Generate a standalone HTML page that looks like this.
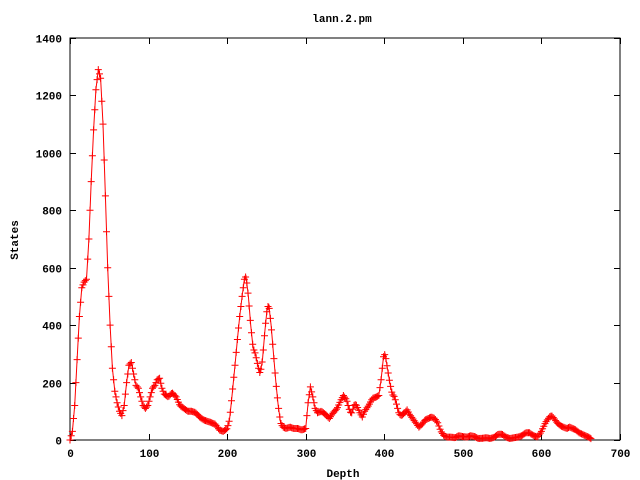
<!DOCTYPE html>
<html><head><style>
html,body{margin:0;padding:0;background:#fff;}
svg{display:block;}
text{font-family:"Liberation Mono",monospace;font-size:11px;font-weight:bold;fill:#000;}
</style></head><body>
<svg id="s" width="640" height="480" xmlns="http://www.w3.org/2000/svg">
<rect width="640" height="480" fill="#fff"/>
<text x="342" y="22" text-anchor="middle">lann.2.pm</text>
<text x="343" y="477" text-anchor="middle">Depth</text>
<text transform="translate(18,240) rotate(-90)" text-anchor="middle">States</text>
<g id="ax"></g>
<g id="dat"></g>
</svg>
<script>
var X0=70,X1=620,Y0=440,Y1=38;
function px(x){return X0+x*(X1-X0)/700;}
function py(y){return Y0-y*(Y0-Y1)/1400;}
var ns="http://www.w3.org/2000/svg",ax=document.getElementById('ax'),dat=document.getElementById('dat');
function el(p,t,a,txt){var e=document.createElementNS(ns,t);for(var k in a)e.setAttribute(k,a[k]);if(txt!=null)e.textContent=txt;p.appendChild(e);return e;}
el(ax,'rect',{x:X0,y:Y1,width:X1-X0,height:Y0-Y1,fill:'none',stroke:'#000','stroke-width':1});
for(var v=0;v<=1400;v+=200){var y=Math.round(py(v))+0.5;
el(ax,'line',{x1:X0,y1:y,x2:X0+6,y2:y,stroke:'#000'});el(ax,'line',{x1:X1-6,y1:y,x2:X1,y2:y,stroke:'#000'});
el(ax,'text',{x:62,y:y+4,'text-anchor':'end'},v);}
for(var v=0;v<=700;v+=100){var x=Math.round(px(v))+0.5;
el(ax,'line',{x1:x,y1:Y0,x2:x,y2:Y0-6,stroke:'#000'});el(ax,'line',{x1:x,y1:Y1,x2:x,y2:Y1+6,stroke:'#000'});
el(ax,'text',{x:x,y:457,'text-anchor':'middle'},v);}
var d=[0,0,3,30,6,120,9,280,12,430,15,530,18,550,21,560,24,700,27,900,30,1080,33,1220,36,1290,39,1260,42,1100,45,850,48,600,51,400,54,250,57,170,60,130,63,100,66,85,69,120,72,200,75,260,78,270,81,230,84,190,87,180,90,150,93,120,96,110,99,120,102,150,105,180,108,190,111,210,114,215,117,180,120,160,125,150,130,165,135,150,140,120,145,110,150,100,155,100,160,95,165,80,170,70,175,65,180,60,185,55,190,35,195,30,200,40,203,70,206,150,210,260,213,350,216,430,219,500,222,560,224,570,227,500,230,400,233,320,236,300,239,260,242,230,245,280,248,380,251,460,253,470,256,400,259,300,262,200,265,120,268,60,271,45,275,40,280,45,285,40,290,40,295,35,300,40,303,130,306,185,309,150,312,110,315,95,320,100,325,90,330,75,335,95,340,110,345,140,348,155,352,140,355,110,358,90,362,125,365,120,368,100,372,80,375,100,380,120,385,145,390,150,393,155,396,210,399,290,401,300,404,250,407,200,410,160,413,150,416,120,419,90,422,85,426,95,429,105,432,90,436,75,440,60,444,45,448,55,452,70,456,75,460,80,464,75,468,60,472,30,476,15,480,10,485,10,490,8,495,15,500,12,505,10,510,15,515,12,520,5,525,6,530,8,535,5,540,10,545,20,550,20,555,10,560,5,565,8,570,10,575,15,580,25,585,25,590,15,595,10,600,30,605,60,610,80,613,85,616,75,620,60,624,50,628,45,632,40,636,45,640,40,644,35,648,25,652,20,656,15,660,10,663,5];
var pts=[];for(var i=0;i<d.length;i+=2)pts.push([px(d[i]),py(d[i+1])]);
el(dat,'polyline',{points:pts.map(function(p){return p[0].toFixed(1)+','+p[1].toFixed(1)}).join(' '),fill:'none',stroke:'#f00','stroke-width':1});
var path='';
function plus(x,y){path+='M'+(x-3.5).toFixed(1)+' '+y.toFixed(1)+'h7M'+x.toFixed(1)+' '+(y-3.5).toFixed(1)+'v7';}
for(var t=0;t<=663;t+=1.5){var j=0;while(j<d.length-4&&d[j+2]<t)j+=2;
var xa=d[j],ya=d[j+1],xb=d[j+2],yb=d[j+3];var f=(t-xa)/(xb-xa);if(f<0)f=0;if(f>1)f=1;plus(px(t),py(ya+(yb-ya)*f));}
el(dat,'path',{d:path,stroke:'#f00','stroke-width':1,fill:'none'});
</script>
</body></html>
